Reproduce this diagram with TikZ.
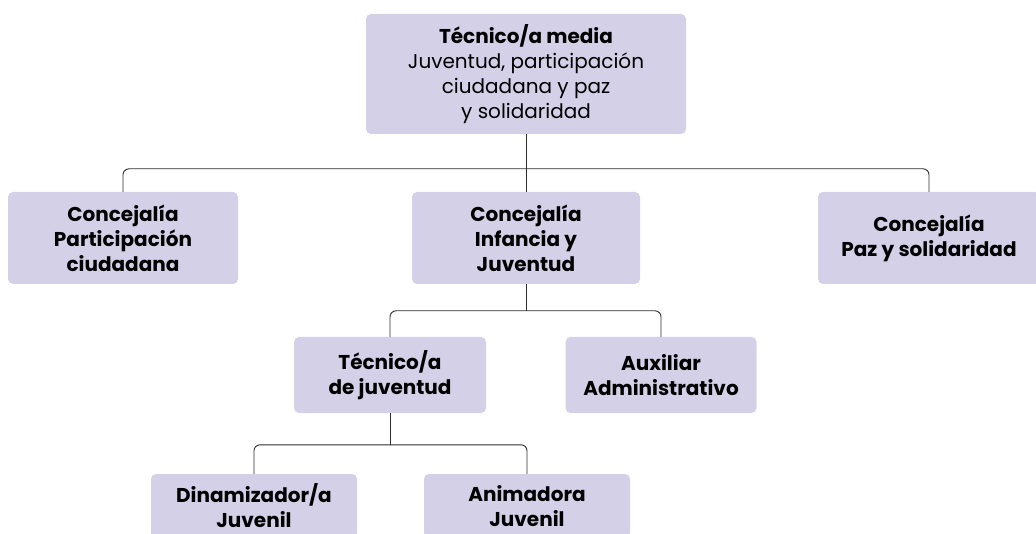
\documentclass[tikz,border=0pt]{standalone}
\usepackage{fontspec}
\setmainfont{Poppins}
\usetikzlibrary{positioning,calc}
\definecolor{lila}{RGB}{212,208,231}
\definecolor{linea}{RGB}{45,45,45}
\tikzset{
  caja/.style={
    fill=lila,
    rounded corners=5pt,
    align=center,
    inner sep=0pt,
    font=\bfseries\fontsize{20}{25}\selectfont
  },
  enlace/.style={
    draw=linea,
    line width=0.9pt,
    rounded corners=6pt
  }
}

\begin{document}
\begin{tikzpicture}[x=1pt,y=-1pt]

    \useasboundingbox (0,0) rectangle (1036,534);
    \clip (0,0) rectangle (1036,534);

    % nivel 1
    \node[caja, minimum width=320, minimum height=120,
          font=\mdseries\fontsize{20}{25}\selectfont] (media) at (526,74)
        {\textbf{Técnico/a media}\\Juventud, participación\\ciudadana y paz\\y solidaridad};

    % nivel 2: concejalías
    \node[caja, minimum width=230, minimum height=92] (cpart) at (123,238)
        {Concejalía\\Participación\\ciudadana};
    \node[caja, minimum width=228, minimum height=92] (cinf) at (526,238)
        {Concejalía\\Infancia y\\Juventud};
    \node[caja, minimum width=222, minimum height=92] (cpaz) at (929,238)
        {Concejalía\\Paz y solidaridad};

    % nivel 3
    \node[caja, minimum width=192, minimum height=76] (tjuv) at (390,375)
        {Técnico/a\\de juventud};
    \node[caja, minimum width=191, minimum height=76] (aux) at (661,375)
        {Auxiliar\\Administrativo};

    % nivel 4
    \node[caja, minimum width=206, minimum height=64] (dinam) at (254,506)
        {Dinamizador/a\\Juvenil};
    \node[caja, minimum width=206, minimum height=64] (anim) at (527,506)
        {Animadora\\Juvenil};

    % conexiones
    \draw[enlace] (cpart.north) -- ++(0,-23) coordinate (b1) -| (cpaz.north);
    \draw[enlace] (media.south) -- (cinf.north);

    \draw[enlace] (tjuv.north) -- ++(0,-26) coordinate (b2) -| (aux.north);
    \draw[enlace] (cinf.south) -- (cinf.south |- b2);

    \draw[enlace] (dinam.north) -- ++(0,-29) coordinate (b3) -| (anim.north);
    \draw[enlace] (tjuv.south) -- (tjuv.south |- b3);

\end{tikzpicture}
\end{document}
